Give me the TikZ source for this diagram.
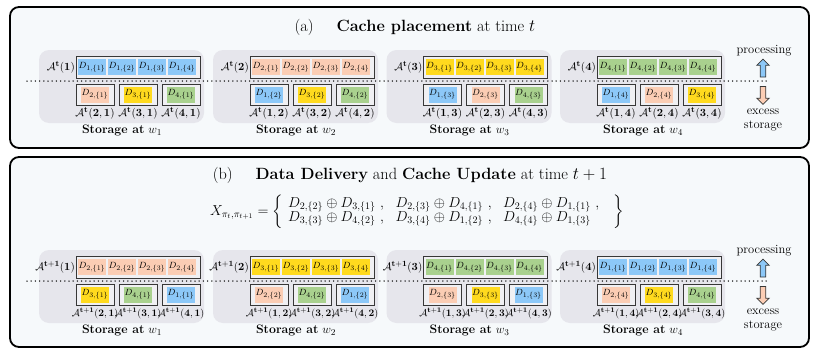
\documentclass[tikz,border=0pt]{standalone}
\usepackage{amsmath,amssymb}
\usetikzlibrary{shapes.arrows}
\definecolor{blueC}{RGB}{140,200,248}
\definecolor{peachC}{RGB}{251,205,180}
\definecolor{yellowC}{RGB}{255,218,30}
\definecolor{greenC}{RGB}{169,209,142}
\definecolor{grpgray}{RGB}{230,230,236}
\definecolor{panelfill}{RGB}{246,249,251}
\definecolor{framec}{RGB}{55,55,55}
\definecolor{framefill}{RGB}{240,240,243}
\tikzset{
  panelbox/.style={draw=black,line width=1.8pt,rounded corners=9pt,fill=panelfill},
  grpbox/.style={rounded corners=10pt,fill=grpgray,minimum width=165pt,minimum height=73pt,inner sep=0pt},
  bigframe/.style={draw=framec,line width=1pt,fill=framefill,minimum width=124pt,minimum height=22pt,inner sep=0pt},
  smallframe/.style={draw=framec,line width=1pt,fill=framefill,minimum width=38pt,minimum height=21pt,inner sep=0pt},
  cell/.style={minimum width=28pt,minimum height=16pt,inner sep=0pt,font=\fontsize{9.5}{10}\selectfont},
  alabel/.style={inner sep=0pt,font=\fontsize{11}{12}\selectfont},
  stlabel/.style={inner sep=0pt,font=\fontsize{12.3}{14}\selectfont},
  sidetext/.style={inner sep=0pt,font=\fontsize{12.5}{14}\selectfont},
  dotline/.style={line width=1.5pt,line cap=round,dash pattern=on 0pt off 4.2pt,black},
  blockarrow/.style={single arrow,draw=framec,line width=0.8pt,minimum width=12.5pt,minimum height=18pt,
     single arrow head extend=3.3pt,single arrow head indent=0pt,inner sep=2.3pt},
}
% #1 name, #2 gx, #3 gy, #4 superscript, #5 worker j, #6 big i, #7 big colour, #8 small list Di/colour/li, #9 small label size
\newcommand\storagegrp[9]{%
  \node[grpbox] (#1) at (#2+82.5,#3+36.5) {};
  \node[bigframe] (#1big) at (#2+99,#3+17) {};
  \foreach \k in {1,2,3,4}{
    \node[cell,fill=#7] (#1c\k) at (#2+53+30*\k-30,#3+17) {$D_{#6,\{\k\}}$};
  }
  \node[alabel,anchor=east] (#1lab) at (#2+36,#3+17) {$\mathcal{A}^{\mathbf{#4}}(\mathbf{#5})$};
  \foreach \di/\col/\li [count=\m] in {#8}{
    \node[smallframe] (#1s\m) at (#2+56+43*\m-43,#3+44.5) {};
    \node[cell,fill=\col] (#1sc\m) at (#1s\m) {$D_{\di,\{#5\}}$};
    \node[alabel,font=\fontsize{#9}{12}\selectfont] (#1sl\m) at (#2+56+43*\m-43,#3+63.5)
      {$\mathcal{A}^{\mathbf{#4}}(\mathbf{\li},\mathbf{#5})$};
  }
  \node[stlabel] (#1st) at (#2+83,#3+80.5) {\textbf{Storage at} $w_{#5}$};
}
\begin{document}
\begin{tikzpicture}[x=1pt,y=-1pt]
\useasboundingbox (0,0) rectangle (822,356);
% panels
\node[panelbox,minimum width=799pt,minimum height=141pt,inner sep=0pt] (panelA) at (409.5,77.5) {};
\node[panelbox,minimum width=799pt,minimum height=190pt,inner sep=0pt] (panelB) at (409.5,252) {};
% titles
\node[inner sep=0pt,font=\fontsize{16.3}{19}\selectfont] (titleA) at (415,27.5)
  {(a)\hspace{1.4em}\textbf{Cache placement} at time $t$};
\node[inner sep=0pt,font=\fontsize{16.3}{19}\selectfont] (titleB) at (410,175)
  {(b)\hspace{1.4em}\textbf{Data Delivery} and \textbf{Cache Update} at time $t+1$};
\node[inner sep=0pt,font=\fontsize{14}{15}\selectfont] (formula) at (417,211.5)
  {$X_{\pi_t,\pi_{t+1}} = \left\{\begin{array}{l}
   D_{2,\{2\}}\oplus D_{3,\{1\}}\ ,\ \ D_{2,\{3\}}\oplus D_{4,\{1\}}\ ,\ \ D_{2,\{4\}}\oplus D_{1,\{1\}}\ ,\\[-1.5pt]
   D_{3,\{3\}}\oplus D_{4,\{2\}}\ ,\ \ D_{3,\{4\}}\oplus D_{1,\{2\}}\ ,\ \ D_{4,\{4\}}\oplus D_{1,\{3\}}
   \end{array}\ \ \right\}$};
% panel (a) groups
\storagegrp{aw1}{39}{50}{t}{1}{1}{blueC}{2/peachC/2,3/yellowC/3,4/greenC/4}{11}
\storagegrp{aw2}{213}{50}{t}{2}{2}{peachC}{1/blueC/1,3/yellowC/3,4/greenC/4}{11}
\storagegrp{aw3}{386.5}{50}{t}{3}{3}{yellowC}{1/blueC/1,2/peachC/2,4/greenC/4}{11}
\storagegrp{aw4}{560}{50}{t}{4}{4}{greenC}{1/blueC/1,2/peachC/2,3/yellowC/3}{11}
% panel (b) groups
\storagegrp{bw1}{39}{250}{t+1}{1}{2}{peachC}{3/yellowC/2,4/greenC/3,1/blueC/4}{9.8}
\storagegrp{bw2}{213}{250}{t+1}{2}{3}{yellowC}{2/peachC/1,4/greenC/3,1/blueC/4}{9.8}
\storagegrp{bw3}{386.5}{250}{t+1}{3}{4}{greenC}{2/peachC/1,3/yellowC/2,1/blueC/4}{9.8}
\storagegrp{bw4}{560}{250}{t+1}{4}{1}{blueC}{2/peachC/1,3/yellowC/2,4/greenC/3}{9.8}
% dotted lines
\coordinate (dotLa) at (27,81);
\coordinate (dotRa) at (767,81);
\coordinate (dotLb) at (27,281);
\coordinate (dotRb) at (767,281);
\draw[dotline] (dotLa) -- (dotRa);
\draw[dotline] (dotLb) -- (dotRb);
% side legends
\foreach \p/\oy in {a/0,b/200}{
  \node[sidetext] (proc\p) at (764,51+\oy) {processing};
  \node[blockarrow,fill=blueC,rotate=90] (up\p) at (763,69.5+\oy) {};
  \node[blockarrow,fill=peachC,rotate=-90] (down\p) at (763,94+\oy) {};
  \node[sidetext] (exc\p) at (763,112+\oy) {excess};
  \node[sidetext] (sto\p) at (763,125.5+\oy) {storage};
}
\end{tikzpicture}
\end{document}
